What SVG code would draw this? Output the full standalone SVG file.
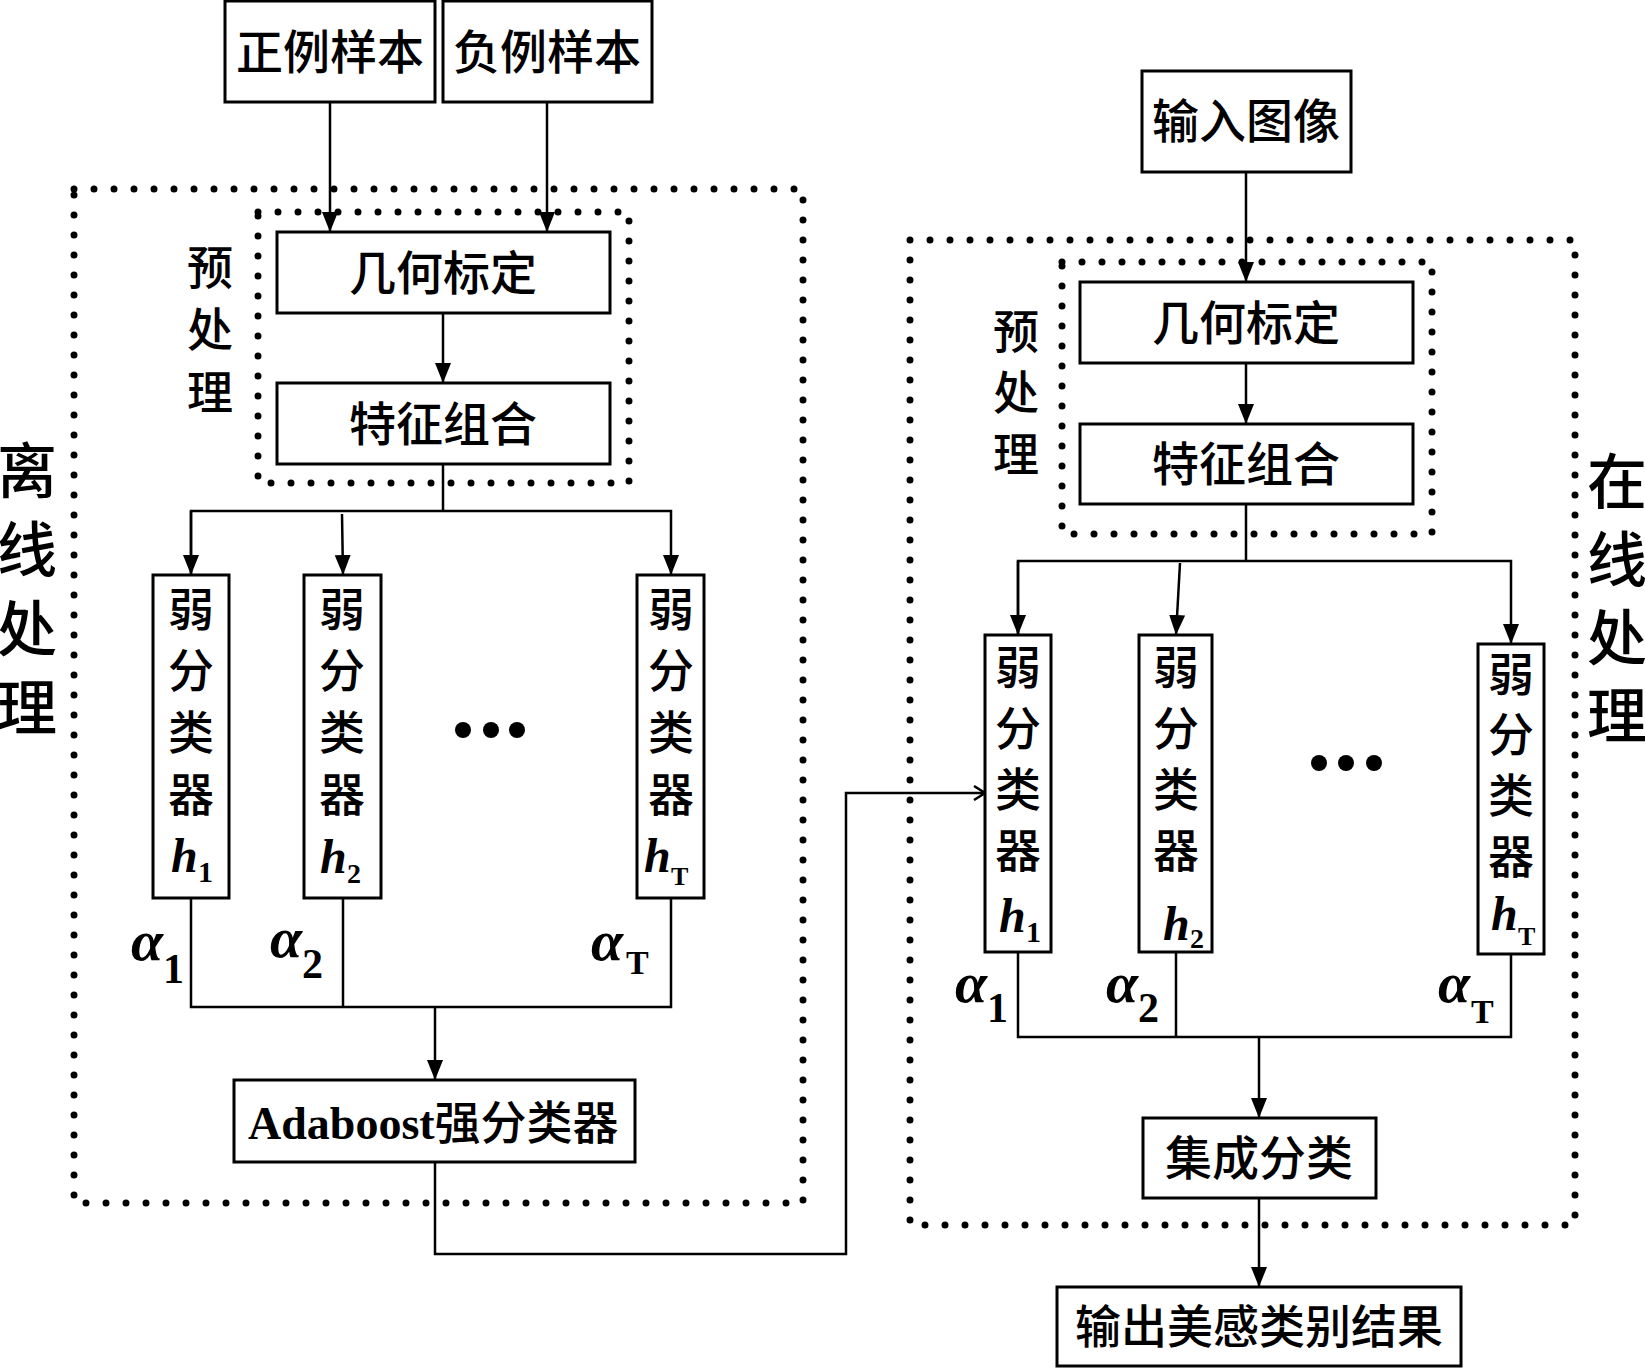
<svg xmlns="http://www.w3.org/2000/svg" width="1645" height="1368" viewBox="0 0 1645 1368">
<defs>
<style>
.box{fill:#fff;stroke:#000;stroke-width:3}
.dot{fill:none;stroke:#000;stroke-width:7;stroke-linecap:round;stroke-dasharray:0 20}
.ln{fill:none;stroke:#000;stroke-width:2.5}
.cjk{font-family:'Liberation Sans','Noto Sans CJK SC',sans-serif;font-weight:500;fill:#000;text-anchor:middle;dominant-baseline:central}
.cj{font-family:'Liberation Sans','Noto Sans CJK SC',sans-serif;font-weight:500}
.it{font-family:'Liberation Serif',serif;font-style:italic;font-weight:bold;fill:#000}
.sub{font-family:'Liberation Serif',serif;font-weight:bold;fill:#000}
</style>
<marker id="ah" markerUnits="userSpaceOnUse" markerWidth="20" markerHeight="16" refX="20" refY="8" orient="auto" viewBox="0 0 20 16">
<path d="M0,0 L20,8 L0,16 z" fill="#000"/>
</marker>
<marker id="oh" markerUnits="userSpaceOnUse" markerWidth="14" markerHeight="16" refX="12" refY="8" orient="auto" viewBox="0 0 14 16">
<path d="M1,1 L12,8 L1,15" fill="none" stroke="#000" stroke-width="2.5"/>
</marker>
</defs>
<rect width="1645" height="1368" fill="#fff"/>

<g id="regions">
<rect class="dot" x="74" y="189" width="729" height="1014"/>
<rect class="dot" x="258" y="212" width="371" height="271"/>
<rect class="dot" x="910" y="240" width="665" height="985"/>
<rect class="dot" x="1062" y="262" width="370" height="272"/>
</g>

<g id="connectors">
<line class="ln" x1="330" y1="102" x2="330" y2="232" marker-end="url(#ah)"/>
<line class="ln" x1="547" y1="102" x2="547" y2="232" marker-end="url(#ah)"/>
<line class="ln" x1="443" y1="313" x2="443" y2="383" marker-end="url(#ah)"/>
<polyline class="ln" points="443,464 443,511"/>
<polyline class="ln" points="191,575 191,511 671,511 671,575" marker-end="url(#ah)"/>
<line class="ln" x1="191" y1="511" x2="191" y2="575" marker-end="url(#ah)"/>
<line class="ln" x1="342" y1="514" x2="343" y2="575" marker-end="url(#ah)"/>
<polyline class="ln" points="191,898 191,1007 671,1007 671,898"/>
<line class="ln" x1="343" y1="898" x2="343" y2="1007"/>
<line class="ln" x1="435" y1="1007" x2="435" y2="1080" marker-end="url(#ah)"/>
<polyline class="ln" points="435,1162 435,1254 846,1254 846,793 985,793" marker-end="url(#oh)"/>

<line class="ln" x1="1246" y1="172" x2="1246" y2="282" marker-end="url(#ah)"/>
<line class="ln" x1="1246" y1="363" x2="1246" y2="424" marker-end="url(#ah)"/>
<polyline class="ln" points="1246,504 1246,561"/>
<polyline class="ln" points="1018,635 1018,561 1511,561 1511,644" marker-end="url(#ah)"/>
<line class="ln" x1="1018" y1="561" x2="1018" y2="635" marker-end="url(#ah)"/>
<line class="ln" x1="1180" y1="563" x2="1176" y2="635" marker-end="url(#ah)"/>
<polyline class="ln" points="1018,952 1018,1037 1511,1037 1511,954"/>
<line class="ln" x1="1176" y1="952" x2="1176" y2="1037"/>
<line class="ln" x1="1259" y1="1037" x2="1259" y2="1118" marker-end="url(#ah)"/>
<line class="ln" x1="1259" y1="1198" x2="1259" y2="1287" marker-end="url(#ah)"/>
</g>

<g id="pos-samples">
<rect class="box" x="225" y="1" width="210" height="101"/>
<text class="cjk" x="330" y="52" font-size="47">正例样本</text>
</g>
<g id="neg-samples">
<rect class="box" x="443" y="1" width="209" height="101"/>
<text class="cjk" x="547" y="52" font-size="47">负例样本</text>
</g>
<g id="geo-left">
<rect class="box" x="277" y="232" width="333" height="81"/>
<text class="cjk" x="443" y="273" font-size="47">几何标定</text>
</g>
<g id="feat-left">
<rect class="box" x="277" y="383" width="333" height="81"/>
<text class="cjk" x="443" y="424" font-size="47">特征组合</text>
</g>
<g id="pre-left-label">
<text class="cjk" font-size="46"><tspan x="210" y="268">预</tspan><tspan x="210" y="330">处</tspan><tspan x="210" y="393">理</tspan></text>
</g>
<g id="offline-label">
<text class="cjk" font-size="60"><tspan x="27" y="472">离</tspan><tspan x="27" y="551">线</tspan><tspan x="27" y="630">处</tspan><tspan x="27" y="709">理</tspan></text>
</g>

<g id="weak-left-1">
<rect class="box" x="153" y="575" width="76" height="323"/>
<text class="cjk" font-size="46"><tspan x="191" y="610">弱</tspan><tspan x="191" y="671">分</tspan><tspan x="191" y="733">类</tspan><tspan x="191" y="795">器</tspan></text>
<text class="it" x="171" y="872" font-size="48">h</text><text class="sub" x="198" y="882" font-size="30">1</text>
</g>
<g id="weak-left-2">
<rect class="box" x="304" y="575" width="77" height="323"/>
<text class="cjk" font-size="46"><tspan x="342" y="610">弱</tspan><tspan x="342" y="671">分</tspan><tspan x="342" y="733">类</tspan><tspan x="342" y="795">器</tspan></text>
<text class="it" x="320" y="873" font-size="48">h</text><text class="sub" x="347" y="883" font-size="28">2</text>
</g>
<g id="weak-left-T">
<rect class="box" x="637" y="575" width="67" height="323"/>
<text class="cjk" font-size="46"><tspan x="671" y="610">弱</tspan><tspan x="671" y="671">分</tspan><tspan x="671" y="733">类</tspan><tspan x="671" y="795">器</tspan></text>
<text class="it" x="644" y="872" font-size="48">h</text><text class="sub" x="671" y="885" font-size="26">T</text>
</g>
<g id="dots-left">
<circle cx="463" cy="730" r="8"/><circle cx="491" cy="730" r="8"/><circle cx="517" cy="730" r="8"/>
</g>
<g id="alpha-left">
<text class="it" x="131" y="960" font-size="58">α</text><text class="sub" x="163" y="983" font-size="42">1</text>
<text class="it" x="270" y="957" font-size="58">α</text><text class="sub" x="302" y="978" font-size="42">2</text>
<text class="it" x="591" y="960" font-size="58">α</text><text class="sub" x="626" y="974" font-size="34">T</text>
</g>
<g id="adaboost">
<rect class="box" x="234" y="1080" width="401" height="82"/>
<text class="sub" x="248" y="1139" font-size="46">Adaboost<tspan class="cj">强分类器</tspan></text>
</g>

<g id="input-image">
<rect class="box" x="1142" y="71" width="209" height="101"/>
<text class="cjk" x="1246" y="121" font-size="47">输入图像</text>
</g>
<g id="geo-right">
<rect class="box" x="1080" y="282" width="333" height="81"/>
<text class="cjk" x="1246" y="323" font-size="47">几何标定</text>
</g>
<g id="feat-right">
<rect class="box" x="1080" y="424" width="333" height="80"/>
<text class="cjk" x="1246" y="464" font-size="47">特征组合</text>
</g>
<g id="pre-right-label">
<text class="cjk" font-size="46"><tspan x="1016" y="332">预</tspan><tspan x="1016" y="393">处</tspan><tspan x="1016" y="455">理</tspan></text>
</g>
<g id="online-label">
<text class="cjk" font-size="60"><tspan x="1617" y="483">在</tspan><tspan x="1617" y="561">线</tspan><tspan x="1617" y="639">处</tspan><tspan x="1617" y="717">理</tspan></text>
</g>

<g id="weak-right-1">
<rect class="box" x="985" y="635" width="66" height="317"/>
<text class="cjk" font-size="46"><tspan x="1018" y="668">弱</tspan><tspan x="1018" y="729">分</tspan><tspan x="1018" y="790">类</tspan><tspan x="1018" y="851">器</tspan></text>
<text class="it" x="999" y="932" font-size="48">h</text><text class="sub" x="1026" y="942" font-size="30">1</text>
</g>
<g id="weak-right-2">
<rect class="box" x="1139" y="635" width="73" height="317"/>
<text class="cjk" font-size="46"><tspan x="1176" y="668">弱</tspan><tspan x="1176" y="729">分</tspan><tspan x="1176" y="790">类</tspan><tspan x="1176" y="851">器</tspan></text>
<text class="it" x="1163" y="940" font-size="48">h</text><text class="sub" x="1190" y="948" font-size="28">2</text>
</g>
<g id="weak-right-T">
<rect class="box" x="1478" y="644" width="66" height="310"/>
<text class="cjk" font-size="46"><tspan x="1511" y="675">弱</tspan><tspan x="1511" y="735">分</tspan><tspan x="1511" y="796">类</tspan><tspan x="1511" y="857">器</tspan></text>
<text class="it" x="1491" y="930" font-size="48">h</text><text class="sub" x="1518" y="945" font-size="26">T</text>
</g>
<g id="dots-right">
<circle cx="1319" cy="763" r="8"/><circle cx="1346" cy="763" r="8"/><circle cx="1374" cy="763" r="8"/>
</g>
<g id="alpha-right">
<text class="it" x="955" y="1002" font-size="58">α</text><text class="sub" x="987" y="1022" font-size="42">1</text>
<text class="it" x="1106" y="1002" font-size="58">α</text><text class="sub" x="1138" y="1022" font-size="42">2</text>
<text class="it" x="1438" y="1002" font-size="58">α</text><text class="sub" x="1471" y="1023" font-size="34">T</text>
</g>
<g id="ensemble">
<rect class="box" x="1143" y="1118" width="233" height="80"/>
<text class="cjk" x="1259" y="1158" font-size="47">集成分类</text>
</g>
<g id="output">
<rect class="box" x="1057" y="1287" width="404" height="79"/>
<text class="cjk" x="1259" y="1327" font-size="46">输出美感类别结果</text>
</g>
</svg>
